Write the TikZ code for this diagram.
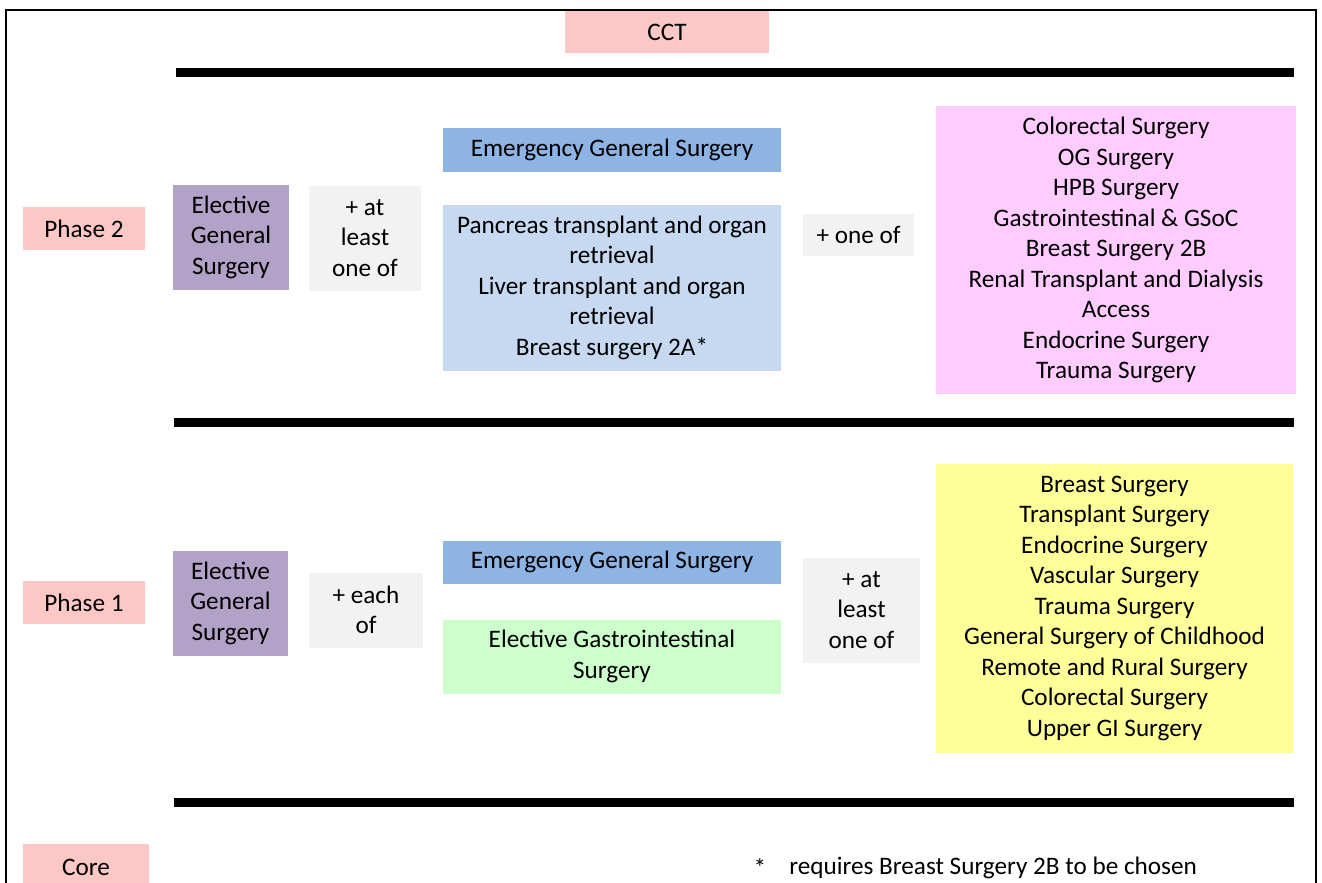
\documentclass[tikz,border=0pt]{standalone}
\usepackage{fontspec}
\setmainfont{Carlito}
\usepackage{tikz}
\usetikzlibrary{positioning}
\definecolor{lvl_pink}{RGB}{252, 200, 197}
\definecolor{egs_purple}{RGB}{179, 162, 199}
\definecolor{join_grey}{RGB}{242, 242, 242}
\definecolor{emg_blue}{RGB}{142, 180, 227}
\definecolor{tx_blue}{RGB}{198, 217, 241}
\definecolor{opt_pink}{RGB}{255, 204, 255}
\definecolor{gi_green}{RGB}{204, 255, 204}
\definecolor{opt_yellow}{RGB}{255, 255, 153}

\begin{document}
\begin{tikzpicture}[
        x=0.5pt, y=-0.5pt,
        box/.style={rectangle, inner sep=0pt, align=center,
                    font=\fontsize{12.6}{15.25}\selectfont},
        bar/.style={line width=4.5pt},
      ]
        \useasboundingbox (0,0) rectangle (1322,883);
        \clip (0,0) rectangle (1322,883);

        % frame
        \draw[line width=1pt] (6,890) -- (6,10) -- (1316,10) -- (1316,890);

        % levels
        \node[box, fill=lvl_pink, minimum width=102pt, minimum height=21pt] (cct) at (667,32) {CCT};
        \node[box, fill=lvl_pink, minimum width=61pt, minimum height=21.5pt] (ph2) at (84,228.5) {Phase 2};
        \node[box, fill=lvl_pink, minimum width=61pt, minimum height=21.5pt] (ph1) at (84,602.5) {Phase 1};
        \node[box, fill=lvl_pink, minimum width=63pt, minimum height=23pt] (core) at (86,867) {Core};

        % dividers
        \coordinate (b1l) at (176,72.5);  \coordinate (b1r) at (1294,72.5);
        \coordinate (b2l) at (174,422);   \coordinate (b2r) at (1294,422);
        \coordinate (b3l) at (174,802.5); \coordinate (b3r) at (1294,802.5);
        \draw[bar] (b1l) -- (b1r);
        \draw[bar] (b2l) -- (b2r);
        \draw[bar] (b3l) -- (b3r);

        % phase 2
        \node[box, fill=egs_purple, minimum width=58pt, minimum height=52.5pt] (egs2) at (231,237)
          {Elective\\General\\Surgery};
        \node[box, fill=join_grey, minimum width=56pt, minimum height=52.5pt] (least2) at (365,238)
          {+ at\\least\\one of};
        \node[box, fill=emg_blue, minimum width=169pt, minimum height=21.5pt] (emg2) at (612,150)
          {Emergency General Surgery};
        \node[box, fill=tx_blue, minimum width=169pt, minimum height=83pt] (tx2) at (612,287.5)
          {Pancreas transplant and organ\\retrieval\\Liver transplant and organ\\retrieval\\Breast surgery 2A*};
        \node[box, fill=join_grey, minimum width=55.5pt, minimum height=21pt] (oneof2) at (858.5,234.5)
          {+ one of};
        \node[box, fill=opt_pink, minimum width=180pt, minimum height=144pt] (opt2) at (1116,250)
          {Colorectal Surgery\\OG Surgery\\HPB Surgery\\Gastrointestinal \& GSoC\\Breast Surgery 2B\\
           Renal Transplant and Dialysis\\Access\\Endocrine Surgery\\Trauma Surgery};

        % phase 1
        \node[box, fill=egs_purple, minimum width=57.5pt, minimum height=52.5pt] (egs1) at (230.5,603)
          {Elective\\General\\Surgery};
        \node[box, fill=join_grey, minimum width=57pt, minimum height=37.5pt] (each1) at (366,610)
          {+ each\\of};
        \node[box, fill=emg_blue, minimum width=169pt, minimum height=21.5pt] (emg1) at (612,562)
          {Emergency General Surgery};
        \node[box, fill=gi_green, minimum width=169pt, minimum height=37pt] (gi1) at (612,656.5)
          {Elective Gastrointestinal\\Surgery};
        \node[box, fill=join_grey, minimum width=58.5pt, minimum height=52.5pt] (least1) at (861.5,610)
          {+ at\\least\\one of};
        \node[box, fill=opt_yellow, minimum width=178.5pt, minimum height=144.5pt] (opt1) at (1114.5,608)
          {Breast Surgery\\Transplant Surgery\\Endocrine Surgery\\Vascular Surgery\\Trauma Surgery\\
           General Surgery of Childhood\\Remote and Rural Surgery\\Colorectal Surgery\\Upper GI Surgery};

        % footnote
        \node[box] (star) at (760,868) {*};
        \node[box, anchor=west] (note) at (789,868) {requires Breast Surgery 2B to be chosen};
      \end{tikzpicture}
\end{document}
